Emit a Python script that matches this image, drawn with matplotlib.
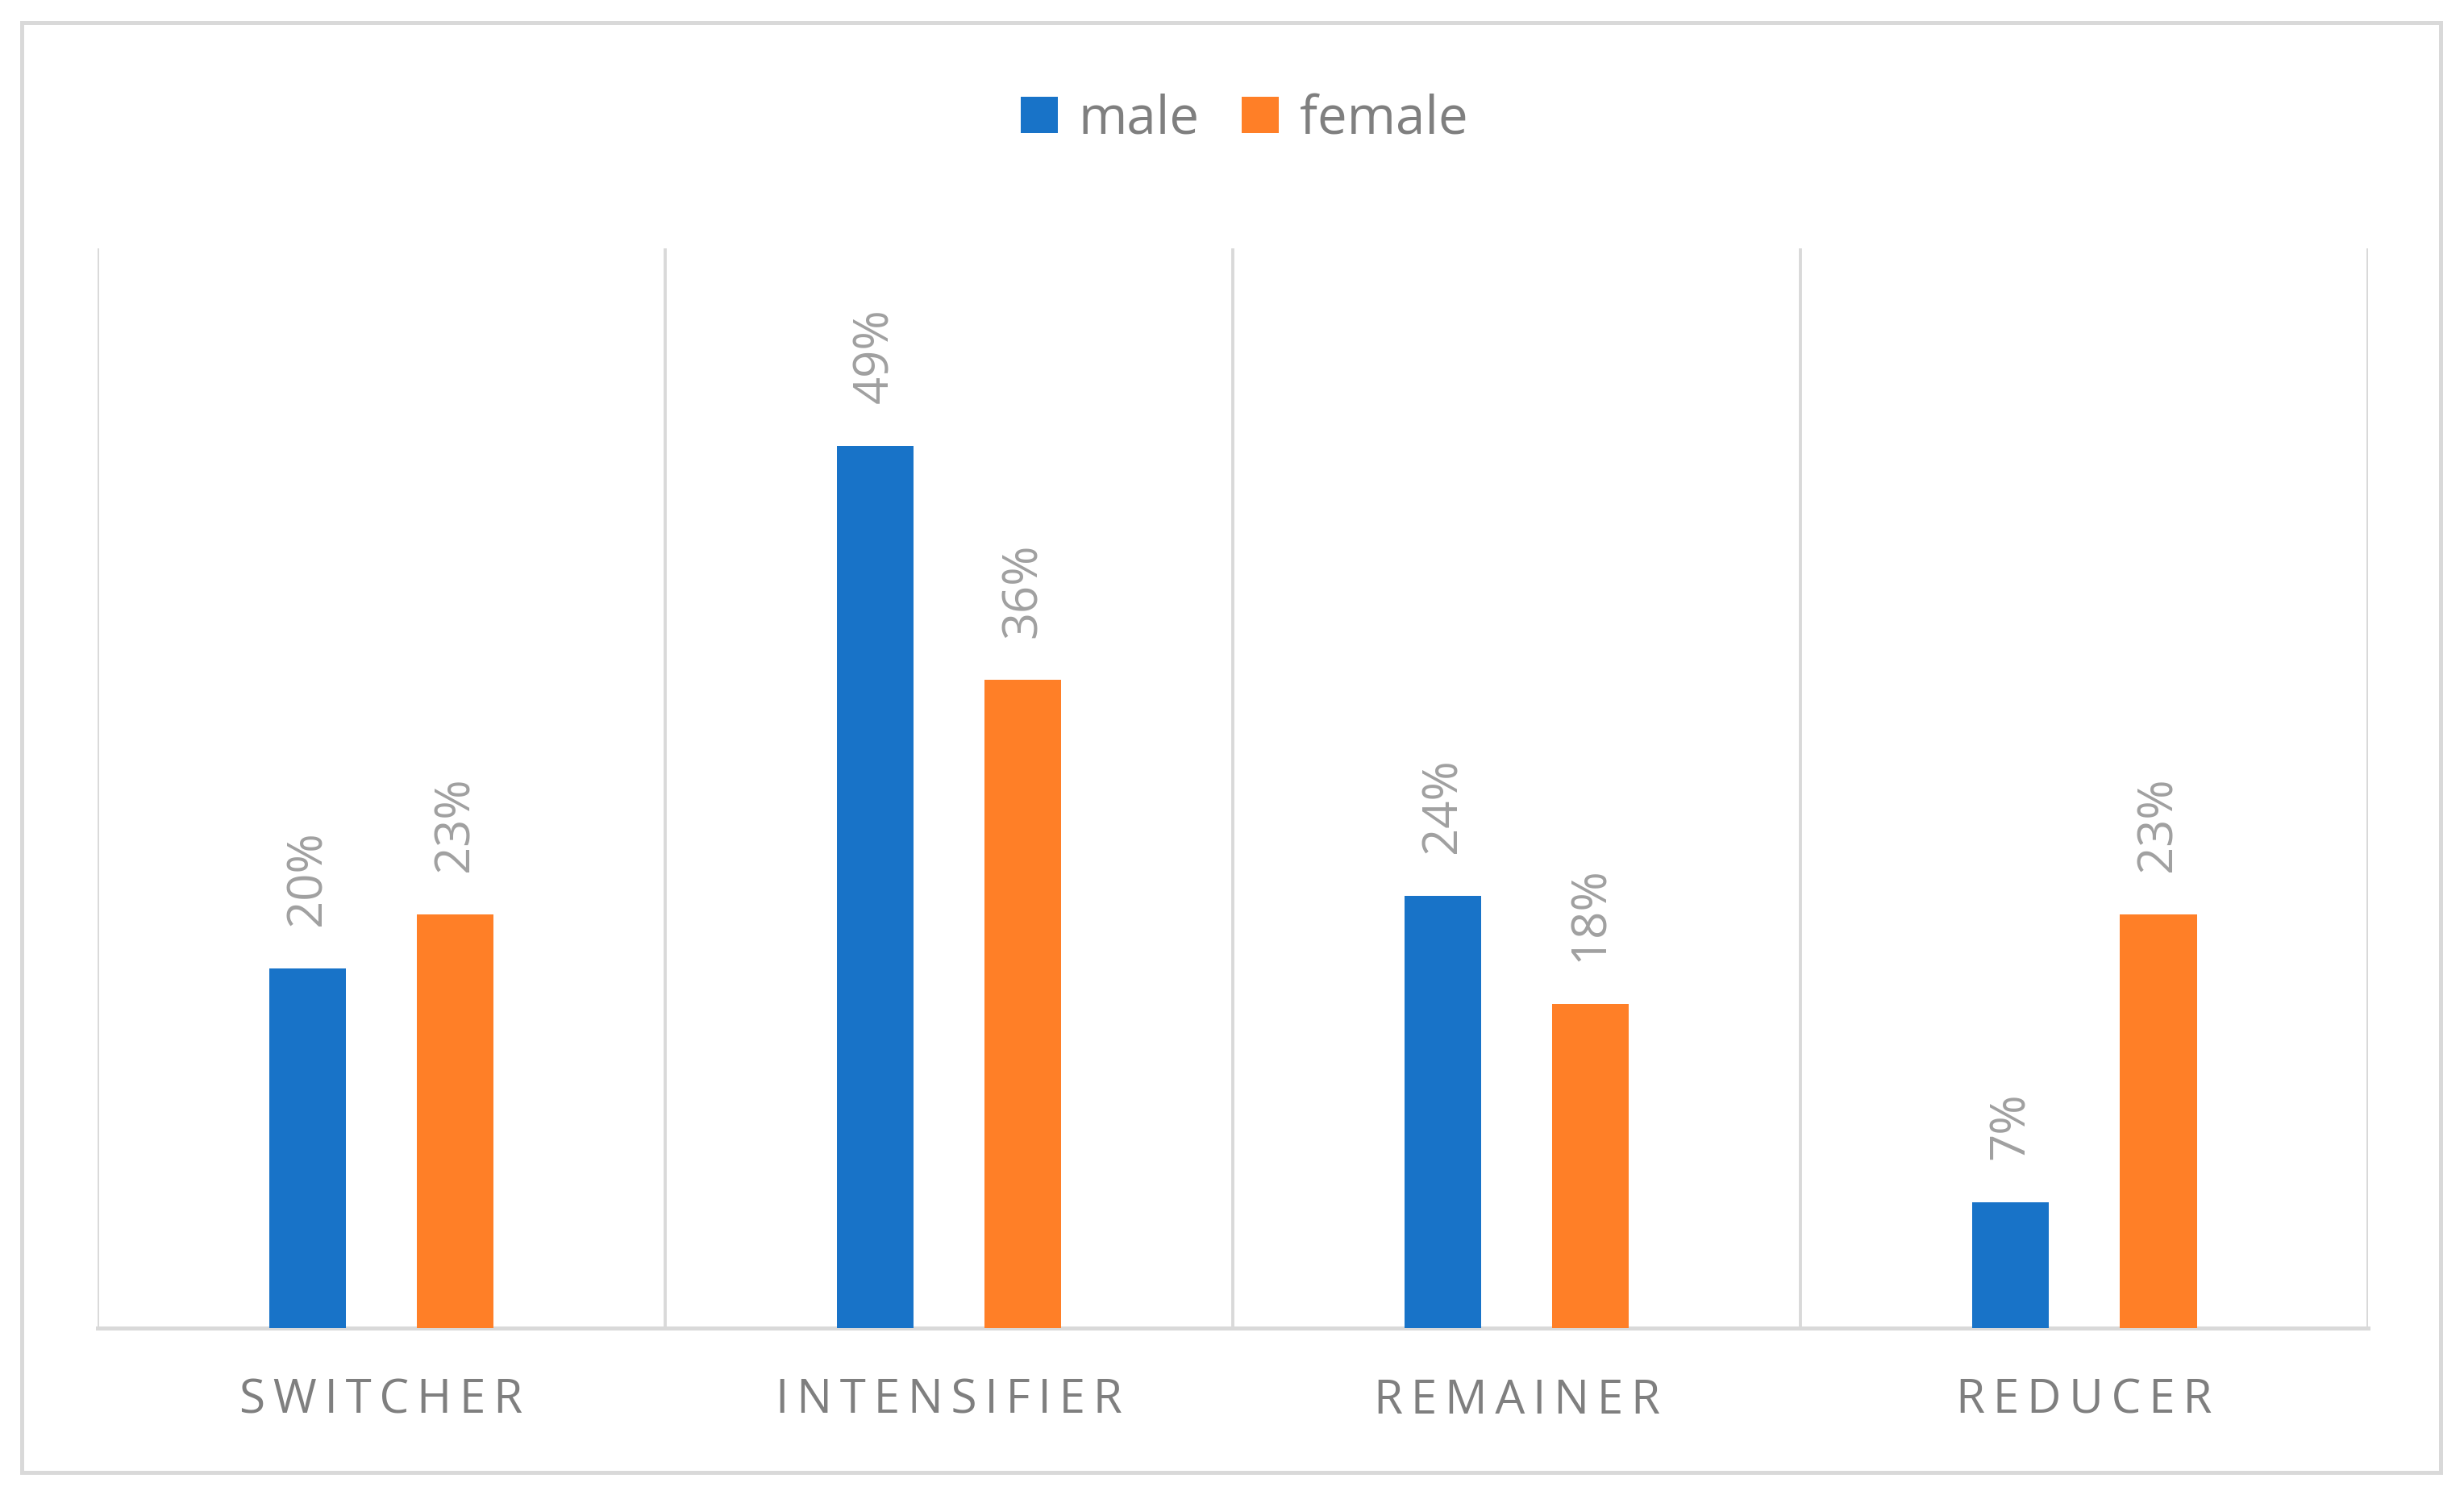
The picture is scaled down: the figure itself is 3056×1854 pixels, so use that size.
import matplotlib.pyplot as plt
from matplotlib.patches import Rectangle
import numpy as np

categories = ["SWITCHER", "INTENSIFIER", "REMAINER", "REDUCER"]
male = [20, 49, 24, 7]
female = [23, 36, 18, 23]
series_names = ["male", "female"]

plt.rcParams['font.family'] = ['Open Sans', 'DejaVu Sans']

blue = '#1873C8'
orange = '#FF7F27'
grid_col = '#D9D9D9'
label_col = '#A0A0A0'
cat_col = '#7F7F7F'

fig = plt.figure(figsize=(15.28, 9.27), dpi=200)
ax = fig.add_axes([0.0396, 0.1117, 0.9215, 0.7223])

x = np.arange(len(categories))
w = 0.136
off = 0.13

b1 = ax.bar(x - off, male, w, color=blue, label=series_names[0], zorder=3)
b2 = ax.bar(x + off, female, w, color=orange, label=series_names[1], zorder=3)

# data labels, rotated
for bars, vals in ((b1, male), (b2, female)):
    for b, v in zip(bars, vals):
        ax.annotate(f"{v}%", (b.get_x() + b.get_width() / 2, v),
                    xytext=(0, 19), textcoords='offset points',
                    rotation=90, ha='center', va='bottom',
                    fontsize=21.5, color=label_col)

ax.set_xlim(-0.5, len(categories) - 0.5)
ax.set_ylim(0, 60)

# vertical separators between categories
for xb in np.arange(-0.5, len(categories), 1.0):
    ax.axvline(xb, color=grid_col, linewidth=1.4, zorder=1)

for s in ['left', 'right', 'top']:
    ax.spines[s].set_visible(False)
ax.spines['bottom'].set_color(grid_col)
ax.spines['bottom'].set_linewidth(1.8)

ax.set_yticks([])
ax.set_xticks(x)
spaced = ['\u2009'.join(c) for c in categories]
ax.set_xticklabels(spaced, fontsize=21, color=cat_col)
ax.tick_params(axis='x', length=0, pad=22)

leg = fig.legend(loc='center', bbox_to_anchor=(0.505, 0.92), ncol=2,
                 frameon=False, fontsize=23.5, labelcolor='#7F7F7F',
                 handlelength=0.7, handleheight=0.7, handletextpad=0.4,
                 columnspacing=0.8)

# outer chart border
fig.patches.append(Rectangle((0.0088, 0.0151), 0.9817, 0.970,
                             transform=fig.transFigure, fill=False,
                             edgecolor=grid_col, linewidth=1.8))

fig.savefig('out.png', dpi=200)
